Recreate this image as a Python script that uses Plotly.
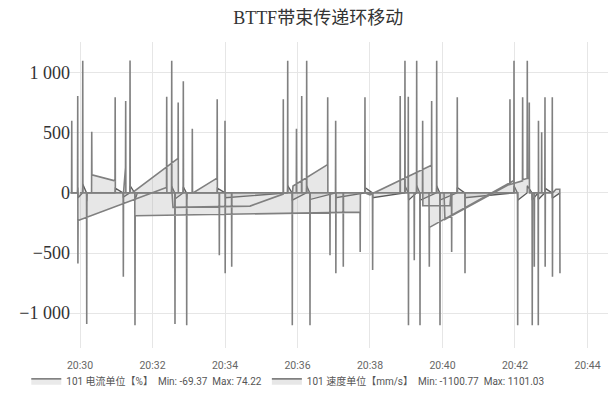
import pandas as pd
import plotly.graph_objects as go

title_text = "BTTF带束传递环移动"
base_time = "2021-03-15 20:30:00"

# speed record chunks: (seconds after 20:30:00, speed in mm/s), in recorded order
speed_chunk_1 = [(-15.7, 0), (-14.0, 0), (-13.7, 600), (-13.4, 0), (-4.1, 0), (-3.8, 806), (-3.5, -588),
                 (-3.2, -230), (140.7, 40), (143.2, 45), (143.5, 800), (143.8, 0), (151.5, 0), (151.8, 1100),
                 (152.1, 0), (156.9, 0), (157.2, -1090), (157.5, 0)]
speed_chunk_2 = [(0.0, 0), (4.2, 0), (4.5, 1100), (4.8, 0), (10.8, 0), (11.1, -1090), (11.4, 0), (19.1, 0),
                 (19.4, 508), (19.7, 150), (57.9, 100), (58.2, 795), (58.5, 0), (71.4, 0), (71.7, -697),
                 (72.0, 0), (75.3, 210), (75.6, 765), (75.9, 0), (82.5, 0), (82.8, 1101.03), (83.1, 0),
                 (86.1, 0), (162.2, 287), (162.5, 751), (162.8, 0), (170.7, 0), (171.0, 929), (171.3, 0),
                 (176.3, 0), (176.6, -1100.77), (176.9, 0), (185.6, 0), (185.9, 533), (186.2, 0), (187.0, 0),
                 (226.8, 123), (227.1, 779), (227.4, 0), (230.3, 0), (230.6, -519), (230.9, 0), (239.7, 0),
                 (240.0, 601), (240.3, -669), (240.6, 0), (250.8, 0), (251.1, -615), (251.4, 0)]
speed_chunk_3 = [(89.4, 0), (90.7, 0), (91.0, -1100), (91.3, -190), (463.5, -160), (463.8, -492), (464.1, 0),
                 (471.4, 0), (471.7, 795), (472.0, 0), (480.0, -16), (581.8, 230), (582.1, 765), (582.4, 0),
                 (590.1, 0), (590.4, 1100), (590.7, 0), (595.6, 0), (595.9, -1100), (596.2, 0), (614.9, 0),
                 (615.2, -492), (615.5, 0), (624.2, 0), (624.5, 795), (624.8, 0), (637.0, 0), (637.3, -669),
                 (637.6, 0)]
speed_chunk_4 = [(152.3, 0), (153.9, -120), (281.4, -110), (334.4, -15), (336.2, -10), (336.5, 779),
                 (336.8, 0), (343.5, 0), (343.8, 1100), (344.1, 0), (351.1, 0), (351.4, -1100), (351.7, 0),
                 (352.6, 57), (408.8, 230), (409.7, 235), (410.0, 795), (410.3, 0), (413.5, 0), (413.8, -519),
                 (414.1, 0), (422.9, 0), (423.2, 601), (423.5, -669), (423.8, 0), (435.5, 0), (435.8, -615),
                 (436.1, 0)]
speed_chunk_5 = [(358.0, 0), (358.3, 533), (358.6, 0), (366.7, 0), (367.0, 806), (367.3, 0), (374.9, 0),
                 (375.2, 1100), (375.5, 0), (380.4, 0), (380.7, -1100), (381.0, 0)]
speed_chunk_6 = [(484.1, 0), (484.4, -642), (484.7, 0), (529.7, 0), (530.0, 806), (530.3, 0), (537.6, 0),
                 (537.9, 1100), (538.2, 0), (543.1, 0), (543.4, 800), (543.7, -1100), (544.0, 0), (553.0, 0),
                 (553.3, -560), (553.6, 0), (557.0, 0), (557.3, 1100), (557.6, 0), (562.5, 0), (562.8, -1100),
                 (563.1, 0), (566.9, 0), (567.2, 601), (567.5, -107), (612.4, -107), (614.1, 0)]
speed_chunk_7 = [(577.7, 0), (577.9, 0), (578.2, -615), (578.5, -287), (716.7, 98), (718.1, 100),
                 (718.4, 1100), (718.7, 0), (724.2, 0), (724.5, -1100), (724.8, 0)]
speed_chunk_8 = [(602.5, 0), (604.1, -220), (708.4, 66), (711.4, 70), (711.7, 779), (712.0, 70), (732.4, 100),
                 (732.7, 795), (733.0, 110), (740.1, 120), (740.4, 1100), (740.7, 120), (743.4, 120),
                 (743.7, 751), (744.0, 0), (748.3, 0), (748.6, -1100), (748.9, 0), (751.7, 0), (752.0, -615),
                 (752.3, 0), (758.3, 0), (758.6, -1100), (758.9, 601), (759.2, 0), (763.9, 0), (764.2, 505),
                 (764.5, 0), (769.4, 0), (769.7, 795), (770.0, -615), (770.3, 0), (781.5, 0), (781.8, 795),
                 (782.1, -697), (782.4, 0), (787.9, 30), (794.2, 30), (794.5, -669)]

# current record: (seconds after 20:30:00, current in %)
current_points = [(-15.7, 0), (-4.2, 0), (-3.8, 45), (-3.2, -40), (4.0, 0), (4.5, 74.22), (10.8, 0),
                  (11.1, -69.37), (11.6, 0), (57.9, 0), (58.4, 40), (71.2, 0), (71.7, -35), (82.4, 0),
                  (82.8, 60), (90.6, 0), (91.0, -60), (95.0, 0), (151.4, 0), (151.8, 55), (156.8, 0),
                  (157.2, -50), (170.6, 0), (171.0, 50), (176.2, 0), (176.6, -55), (177.1, 0), (226.9, 0),
                  (227.3, 40), (240.4, 0), (240.8, -40), (343.4, 0), (343.8, 60), (351.0, 0), (351.4, -60),
                  (374.8, 0), (375.2, 60), (380.3, 0), (380.7, -55), (423.3, 0), (423.7, -40), (471.3, 0),
                  (471.7, 45), (484.1, 0), (484.5, -40), (537.5, 0), (537.9, 60), (543.5, 0), (543.9, -60),
                  (556.9, 0), (557.3, 62), (562.4, 0), (562.8, -62), (590.0, 0), (590.4, 60), (595.5, 0),
                  (595.9, -60), (624.1, 0), (624.5, 45), (636.9, 0), (637.3, -40), (718.0, 0), (718.4, 60),
                  (724.1, 0), (724.5, -62), (740.0, 0), (740.4, 60), (748.2, 0), (748.6, -60), (758.2, 0),
                  (758.6, -55), (769.3, 0), (769.7, 40), (781.4, 0), (781.8, -45), (794.5, 0)]

y_tick_vals = [-1000, -500, 0, 500, 1000]
y_tick_text = ["\u22121 000", "\u2212500", "0", "500", "1 000"]
x_tick_labels = ["20:30", "20:32", "20:34", "20:36", "20:38", "20:40", "20:42", "20:44"]

name_current = "101 电流单位【%】  Min: -69.37  Max: 74.22"
name_speed = "101 速度单位【mm/s】  Min: -1100.77  Max: 1101.03"

speed_points = (speed_chunk_1 + speed_chunk_2 + speed_chunk_3 + speed_chunk_4 +
                speed_chunk_5 + speed_chunk_6 + speed_chunk_7 + speed_chunk_8)

base = pd.Timestamp(base_time)
t_speed = base + pd.to_timedelta([p[0] for p in speed_points], unit="s")
v_speed = [p[1] for p in speed_points]
t_current = base + pd.to_timedelta([p[0] for p in current_points], unit="s")
v_current = [p[1] for p in current_points]
x_ticks = [pd.Timestamp(base.strftime("%Y-%m-%d ") + s) for s in x_tick_labels]

fig = go.Figure()
fig.add_trace(go.Scatter(
    x=t_current, y=v_current, name=name_current, mode="lines",
    line=dict(color="#5a5a5a", width=1.3),
    fill="tozeroy", fillcolor="rgba(170,170,170,0.25)",
))
fig.add_trace(go.Scatter(
    x=t_speed, y=v_speed, name=name_speed, mode="lines",
    line=dict(color="#808080", width=1.6),
    fill="tozeroy", fillcolor="rgba(170,170,170,0.28)",
))

fig.update_layout(
    width=613, height=400,
    margin=dict(l=68, r=5, t=42, b=48),
    paper_bgcolor="white", plot_bgcolor="white",
    title=dict(text=title_text, x=0.519, xref="container", xanchor="center",
               y=0.957, yref="container", yanchor="middle",
               font=dict(family="Liberation Serif, Noto Sans CJK SC", size=18, color="#333333")),
    showlegend=True,
    legend=dict(orientation="h", x=0.407, xanchor="center", xref="paper", y=-0.06, yanchor="top",
                font=dict(family="Roboto, Noto Sans CJK SC", size=10, color="#555555"),
                itemwidth=30, tracegroupgap=0, bgcolor="rgba(0,0,0,0)"),
    xaxis=dict(
        range=[base + pd.to_timedelta(-19.9, unit="s"), base + pd.to_timedelta(874, unit="s")],
        tickvals=x_ticks, ticktext=x_tick_labels, automargin=False, ticklabelstandoff=9,
        showgrid=True, gridcolor="#e6e6e6", gridwidth=1,
        showline=False, zeroline=False, ticks="",
        tickfont=dict(family="Liberation Sans Narrow, Roboto", size=10.5, color="#666666"),
    ),
    yaxis=dict(
        range=[-1290, 1255], automargin=False, ticklabelstandoff=-3,
        tickvals=y_tick_vals, ticktext=y_tick_text,
        showgrid=True, gridcolor="#e6e6e6", gridwidth=1,
        showline=False, zeroline=False, ticks="",
        tickfont=dict(family="Liberation Serif, DejaVu Serif", size=18, color="#333333"),
    ),
)

fig.write_html("out.html", config={"displayModeBar": False},
               post_script="document.body.style.margin='0';")
